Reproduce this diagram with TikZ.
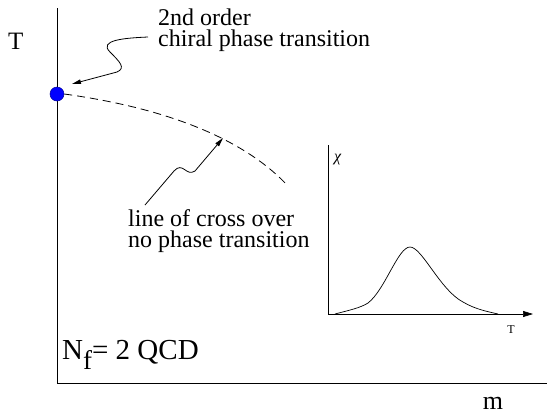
\documentclass[tikz,border=0pt]{standalone}
\usepackage{fontspec}
\setmainfont{Liberation Serif}
\newfontfamily\tms{Liberation Serif}
\usetikzlibrary{arrows.meta}
\begin{document}
\begin{tikzpicture}[x=1pt,y=-1pt,
  lbl/.style={inner sep=0pt,anchor=base west,font=\tms\fontsize{24}{24}\selectfont},
  axis/.style={line width=0.9pt},
  ptr/.style={line width=0.8pt,-{Triangle[length=9pt,width=4.5pt]}}]
\useasboundingbox (0,0) rectangle (547,416);
% main axes
\coordinate (o) at (57,383);
\coordinate (ytop) at (57,8);
\coordinate (xend) at (547,383);
\draw[axis] (ytop) -- (o) -- (xend);
\node[inner sep=0pt,anchor=base west,font=\tms\fontsize{25}{25}\selectfont] (tlab) at (8,49) {T};
\node[inner sep=0pt,anchor=base,font=\tms\fontsize{26}{26}\selectfont] (mlab) at (493,409) {m};
% critical point
\node[circle,fill=blue,draw=blue!60!black,line width=0.5pt,minimum size=14pt,inner sep=0pt] (cp) at (57,94) {};
% cross-over line
\coordinate (ce) at (288,186);
\draw[line width=0.8pt,dash pattern=on 8pt off 5pt] (cp.east) .. controls (180,110) and (250,145) .. (ce);
% labels
\node[lbl] (l1) at (158,25) {2nd order};
\node[lbl] (l2) at (158,46) {chiral phase transition};
\node[lbl] (l3) at (128,226) {line of cross over};
\node[lbl] (l4) at (128,247) {no phase transition};
\coordinate (a1s) at (148,37);
\coordinate (a1t) at (72,84);
\draw[ptr] (a1s) .. controls (125,38) and (98,40) .. (110,52) .. controls (120,62) and (126,68) .. (117,72) -- (a1t);
\coordinate (a2s) at (145,205);
\coordinate (a2t) at (223,138);
\draw[ptr] (a2s) -- (174,171) .. controls (183,161) and (186,177) .. (195,171) -- (a2t);
% N_f label
\node[inner sep=0pt,anchor=base west,font=\tms\fontsize{29}{29}\selectfont] (nf) at (62,359) {N\raisebox{-10pt}{\fontsize{27}{27}\selectfont f}= 2 QCD};
% inset
\coordinate (io) at (328,314);
\coordinate (itop) at (328,145);
\coordinate (iend) at (533,314);
\draw[line width=0.7pt] (itop) -- (io);
\draw[line width=0.7pt,-{Triangle[length=10pt,width=6pt]}] (io) -- (iend);
\node[inner sep=0pt,anchor=base west,font=\tms\itshape\fontsize{16}{16}\selectfont] (chi) at (334,161) {χ};
\node[inner sep=0pt,anchor=base,font=\tms\fontsize{12}{12}\selectfont] (tt) at (511,333) {T};
\draw[line width=0.7pt] (335,314) .. controls (350,310) and (360,308) .. (368,303)
  .. controls (385,290) and (398,247) .. (410,247)
  .. controls (422,247) and (440,290) .. (463,302)
  .. controls (475,309) and (485,311) .. (498,314);
\end{tikzpicture}
\end{document}
